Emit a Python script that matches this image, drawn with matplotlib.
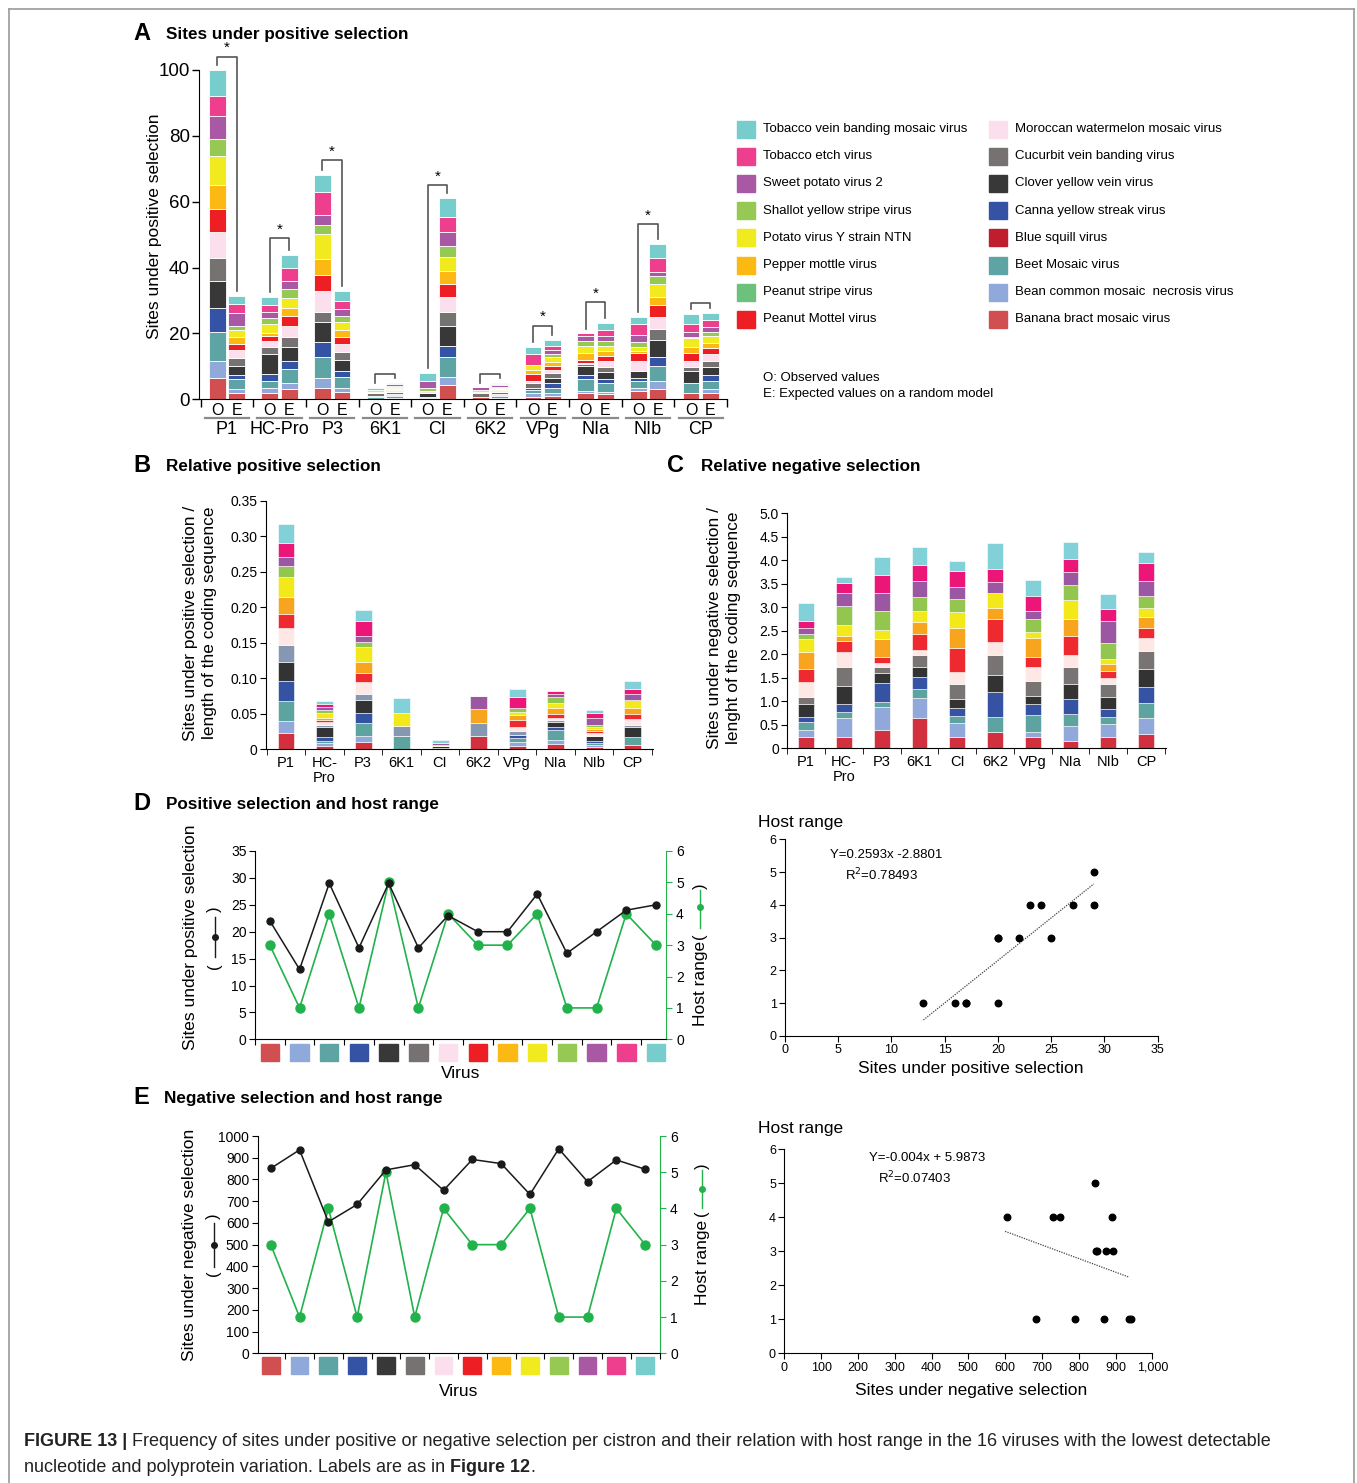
import matplotlib
matplotlib.use('Agg')
import matplotlib.pyplot as plt
from matplotlib.patches import Rectangle
from matplotlib.lines import Line2D
import numpy as np

plt.rcParams['font.family'] = ['Liberation Sans', 'DejaVu Sans']

# ---------------- data ----------------
cistrons = ['P1', 'HC-Pro', 'P3', '6K1', 'CI', '6K2', 'VPg', 'NIa', 'NIb', 'CP']
cistron_ticks = ['P1', 'HC-\nPro', 'P3', '6K1', 'CI', '6K2', 'VPg', 'NIa', 'NIb', 'CP']

legend_left = ['Tobacco vein banding mosaic virus', 'Tobacco etch virus', 'Sweet potato virus 2',
               'Shallot yellow stripe virus', 'Potato virus Y strain NTN', 'Pepper mottle virus',
               'Peanut stripe virus', 'Peanut Mottel virus']
legend_right = ['Moroccan watermelon mosaic virus', 'Cucurbit vein banding virus', 'Clover yellow vein virus',
                'Canna yellow streak virus', 'Blue squill virus', 'Beet Mosaic virus',
                'Bean common mosaic  necrosis virus', 'Banana bract mosaic virus']

# viruses in stacking order (bottom -> top), also the order on the x axis of D and E
viruses = ['Banana bract mosaic virus', 'Bean common mosaic  necrosis virus', 'Beet Mosaic virus',
           'Canna yellow streak virus', 'Clover yellow vein virus', 'Cucurbit vein banding virus',
           'Moroccan watermelon mosaic virus', 'Peanut Mottel virus', 'Pepper mottle virus',
           'Potato virus Y strain NTN', 'Shallot yellow stripe virus', 'Sweet potato virus 2',
           'Tobacco etch virus', 'Tobacco vein banding mosaic virus']

# rows = cistrons, columns = viruses (same order as `viruses`)
pos_obs = np.array([
    [6.6, 5.0, 8.9, 7.3, 8.1, 6.9, 8.1, 6.9, 7.3, 8.9, 5.1, 6.8, 6.1, 8.0],
    [1.8, 1.6, 2.3, 2.0, 6.1, 2.2, 1.7, 1.5, 0.8, 2.8, 2.0, 1.7, 2.1, 2.4],
    [3.5, 2.9, 6.4, 4.7, 6.1, 2.9, 6.5, 4.6, 5.0, 7.5, 2.8, 3.1, 7.0, 5.0],
    [0.2, 0.0, 0.4, 0.0, 0.4, 0.9, 0.2, 0.0, 0.2, 0.6, 0.0, 0.0, 0.0, 0.6],
    [0.3, 0.0, 0.5, 0.0, 1.0, 0.0, 0.8, 0.0, 0.0, 0.0, 0.9, 2.1, 0.0, 2.3],
    [0.8, 0.0, 0.0, 0.0, 0.0, 1.2, 0.0, 0.0, 0.3, 0.5, 0.0, 0.8, 0.0, 0.0],
    [0.6, 1.2, 1.0, 0.5, 0.0, 1.5, 0.8, 2.2, 1.0, 1.7, 0.0, 0.0, 3.2, 2.2],
    [2.0, 0.6, 3.5, 1.3, 2.8, 0.5, 0.3, 1.0, 2.0, 2.2, 1.5, 1.5, 0.8, 0.0],
    [2.6, 0.7, 2.4, 0.7, 2.3, 0.0, 2.9, 2.4, 0.8, 1.2, 1.5, 2.0, 3.3, 2.1],
    [1.8, 0.0, 3.1, 0.0, 3.8, 1.2, 1.7, 2.4, 2.0, 2.7, 0.3, 1.5, 2.3, 3.0],
])
pos_exp = np.array([
    [1.8, 1.3, 3.0, 1.3, 2.8, 2.2, 2.6, 1.8, 2.2, 2.1, 1.3, 3.7, 2.7, 2.6],
    [3.1, 1.8, 4.3, 2.5, 4.1, 3.0, 3.5, 3.0, 2.3, 3.1, 2.7, 2.5, 3.9, 3.9],
    [2.3, 1.2, 3.4, 1.8, 3.2, 2.4, 2.4, 2.1, 2.3, 2.5, 1.7, 2.0, 2.7, 3.0],
    [0.3, 0.2, 0.5, 0.2, 0.5, 0.4, 0.3, 0.3, 0.3, 0.4, 0.3, 0.4, 0.4, 0.4],
    [4.4, 2.3, 6.1, 3.5, 6.0, 4.2, 4.7, 3.8, 4.0, 4.1, 3.5, 4.3, 4.6, 5.5],
    [0.3, 0.2, 0.5, 0.2, 0.5, 0.4, 0.3, 0.3, 0.4, 0.4, 0.3, 0.4, 0.4, 0.3],
    [1.0, 0.8, 1.7, 1.3, 1.6, 1.5, 1.0, 1.3, 1.2, 1.3, 1.1, 1.2, 1.3, 1.7],
    [1.5, 0.7, 2.7, 1.2, 2.1, 1.7, 1.7, 1.7, 1.4, 1.6, 1.4, 1.6, 1.8, 2.2],
    [3.0, 2.6, 4.6, 2.6, 5.2, 3.4, 3.7, 3.5, 2.6, 3.8, 2.4, 1.4, 4.0, 4.4],
    [2.0, 1.1, 2.6, 1.7, 2.5, 1.7, 2.2, 1.7, 1.7, 2.1, 1.2, 1.4, 2.2, 2.0],
])
bracket_level = [104, 49, 72.7, 7.7, 65, 7.7, 22.4, 29.5, 53.2, 29.2]
significant = [True, True, True, False, True, False, True, True, True, False]

rel_pos = np.array([
    [0.0221, 0.0174, 0.0282, 0.0281, 0.0273, 0.0230, 0.0240, 0.0202, 0.0235, 0.0281, 0.0165, 0.0117, 0.0207, 0.0258],
    [0.0042, 0.0038, 0.0037, 0.0057, 0.0131, 0.0033, 0.0047, 0.0024, 0.0023, 0.0071, 0.0047, 0.0047, 0.0037, 0.0047],
    [0.0103, 0.0080, 0.0188, 0.0141, 0.0179, 0.0084, 0.0169, 0.0132, 0.0155, 0.0202, 0.0080, 0.0084, 0.0207, 0.0155],
    [0.0, 0.0, 0.0183, 0.0, 0.0, 0.0141, 0.0, 0.0, 0.0, 0.0188, 0.0, 0.0, 0.0, 0.0202],
    [0.0009, 0.0, 0.0, 0.0, 0.0033, 0.0, 0.0, 0.0, 0.0, 0.0019, 0.0, 0.0028, 0.0, 0.0038],
    [0.0188, 0.0, 0.0, 0.0, 0.0, 0.0183, 0.0, 0.0, 0.0188, 0.0, 0.0, 0.0188, 0.0, 0.0],
    [0.0042, 0.0061, 0.0047, 0.0047, 0.0, 0.0061, 0.0047, 0.0104, 0.0070, 0.0047, 0.0047, 0.0, 0.0155, 0.0118],
    [0.0070, 0.0057, 0.0141, 0.0047, 0.0070, 0.0023, 0.0024, 0.0061, 0.0080, 0.0071, 0.0084, 0.0047, 0.0042, 0.0],
    [0.0033, 0.0023, 0.0033, 0.0024, 0.0070, 0.0, 0.0038, 0.0038, 0.0023, 0.0023, 0.0033, 0.0104, 0.0070, 0.0038],
    [0.0056, 0.0, 0.0118, 0.0, 0.0131, 0.0033, 0.0085, 0.0070, 0.0080, 0.0118, 0.0, 0.0084, 0.0066, 0.0122],
])
rel_neg = np.array([
    [0.25, 0.14, 0.16, 0.12, 0.27, 0.15, 0.33, 0.26, 0.37, 0.27, 0.11, 0.14, 0.13, 0.40],
    [0.25, 0.39, 0.13, 0.17, 0.39, 0.39, 0.32, 0.25, 0.10, 0.23, 0.41, 0.27, 0.21, 0.13],
    [0.39, 0.48, 0.12, 0.41, 0.21, 0.13, 0.08, 0.13, 0.37, 0.20, 0.40, 0.38, 0.39, 0.37],
    [0.64, 0.42, 0.20, 0.25, 0.23, 0.25, 0.10, 0.34, 0.26, 0.24, 0.28, 0.34, 0.36, 0.38],
    [0.25, 0.28, 0.16, 0.16, 0.20, 0.32, 0.26, 0.50, 0.42, 0.34, 0.28, 0.26, 0.35, 0.21],
    [0.34, 0.00, 0.33, 0.52, 0.38, 0.42, 0.28, 0.48, 0.24, 0.32, 0.00, 0.22, 0.29, 0.54],
    [0.23, 0.12, 0.35, 0.24, 0.17, 0.33, 0.30, 0.20, 0.40, 0.13, 0.28, 0.18, 0.30, 0.35],
    [0.16, 0.32, 0.25, 0.32, 0.31, 0.36, 0.27, 0.41, 0.35, 0.41, 0.32, 0.28, 0.27, 0.35],
    [0.23, 0.29, 0.15, 0.17, 0.26, 0.26, 0.14, 0.15, 0.14, 0.10, 0.36, 0.45, 0.26, 0.32],
    [0.30, 0.34, 0.32, 0.35, 0.38, 0.38, 0.28, 0.22, 0.22, 0.20, 0.24, 0.32, 0.39, 0.23],
])

# per virus (order of `viruses`)
pos_sites = [22, 13, 29, 17, 29, 17, 23, 20, 20, 27, 16, 20, 24, 25]
neg_sites = [851, 936, 605, 685, 844, 868, 750, 892, 873, 731, 941, 790, 890, 847]
host_range = [3, 1, 4, 1, 5, 1, 4, 3, 3, 4, 1, 1, 4, 3]

fit_pos = (0.2593, -2.8801)
fit_neg = (-0.004, 5.9873)

# ---------------- styles ----------------
colors = {
    'Tobacco vein banding mosaic virus': '#77CCCC', 'Tobacco etch virus': '#EE3F8E',
    'Sweet potato virus 2': '#A958A3', 'Shallot yellow stripe virus': '#95C954',
    'Potato virus Y strain NTN': '#F1EA1F', 'Pepper mottle virus': '#FDB913',
    'Peanut stripe virus': '#6CC17D', 'Peanut Mottel virus': '#EE1E25',
    'Moroccan watermelon mosaic virus': '#FBDFEC', 'Cucurbit vein banding virus': '#767272',
    'Clover yellow vein virus': '#383838', 'Canna yellow streak virus': '#3553A4',
    'Blue squill virus': '#BF1E2E', 'Beet Mosaic virus': '#5FA4A4',
    'Bean common mosaic  necrosis virus': '#8FA9DB', 'Banana bract mosaic virus': '#D14F50',
}
col_main = [colors[v] for v in viruses]
col_rel = ['#D2303F', '#90A8DA', '#5DA3A0', '#3552A3', '#333333', '#787473', '#FDE8E6',
           '#EE2A30', '#F7A51E', '#F2E81A', '#93C64F', '#9B57A1', '#EC1679', '#82D0D8']
col_relB = list(col_rel)
col_relB[5] = '#8597B1'
GREEN = '#22B24C'

W, H = 1357, 1483
fig = plt.figure(figsize=(W / 100, H / 100), dpi=100)


def fx(x):
    return x / W


def fy(y):
    return 1 - y / H


def box(l, t, r, b):
    return [l / W, 1 - b / H, (r - l) / W, (b - t) / H]


def ftext(x, y, s, **kw):
    kw.setdefault('va', 'center')
    return fig.text(fx(x), fy(y), s, **kw)


def clean(ax):
    ax.spines['top'].set_visible(False)
    ax.spines['right'].set_visible(False)


# frame
for xs, ys in (([8.5, 8.5], [H, 8.5]), ([8.5, 1354], [8.5, 8.5]), ([1354, 1354], [8.5, H])):
    fig.add_artist(Line2D([fx(x) for x in xs], [fy(y) for y in ys], color='#999999', lw=1.2))

# panel titles
for letter, lx, tx, y, title in (('A', 133, 166, 35, 'Sites under positive selection'),
                                 ('B', 133, 166, 466, 'Relative positive selection'),
                                 ('C', 667, 701, 466, 'Relative negative selection'),
                                 ('D', 133, 166, 804, 'Positive selection and host range'),
                                 ('E', 133, 164, 1098, 'Negative selection and host range')):
    ftext(lx, y - 1, letter, fontsize=17, fontweight='bold')
    ftext(tx, y, title, fontsize=12.3, fontweight='bold')

# ---------------- A ----------------
axA = fig.add_axes(box(199, 70, 727, 399.3))
clean(axA)
xg = np.arange(len(cistrons))
off, bw = 0.185, 0.32
for data, dx in ((pos_obs, -off), (pos_exp, off)):
    bottom = np.zeros(len(cistrons))
    for j in range(len(viruses)):
        axA.bar(xg + dx, data[:, j], bw, bottom=bottom, color=col_main[j],
                edgecolor='white', linewidth=0.6)
        bottom += data[:, j]
obs_tot = pos_obs.sum(axis=1)
exp_tot = pos_exp.sum(axis=1)
for i in range(len(cistrons)):
    lev = bracket_level[i]
    axA.plot([i - off, i - off, i + off, i + off],
             [obs_tot[i] + 1.5, lev, lev, exp_tot[i] + 1.5],
             color='#555555', lw=1.2, clip_on=False)
    if significant[i]:
        axA.text(i, lev + 2.6, '*', ha='center', va='center', fontsize=11)
axA.set_xlim(-0.53, 9.48)
axA.set_ylim(0, 100)
axA.set_yticks(range(0, 101, 20))
axA.tick_params(axis='y', labelsize=13.5, length=5, width=1, pad=1.5)
pos_oe = np.concatenate([xg - off, xg + off])
axA.set_xticks(pos_oe)
axA.set_xticklabels(['O'] * 10 + ['E'] * 10, fontsize=11.5)
axA.tick_params(axis='x', length=0, pad=3)
axA.set_xticks(np.arange(-0.5, 10, 1), minor=True)
axA.tick_params(axis='x', which='minor', length=6, width=1)
trA = axA.get_xaxis_transform()
for i, name in enumerate(cistrons):
    axA.plot([i - 0.42, i + 0.42], [-0.057, -0.057], transform=trA, clip_on=False,
             color='#8A8A8A', lw=1.6)
    axA.text(i, -0.091, name, transform=trA, ha='center', va='center', fontsize=13)
ftext(155, 226, 'Sites under positive selection', rotation=90, ha='center', fontsize=12.5)

# legend
for k, name in enumerate(legend_left):
    y = 129 + 27.2 * k
    fig.add_artist(Rectangle((fx(737), fy(y + 8.5)), 18 / W, 17 / H, color=colors[name],
                             transform=fig.transFigure))
    ftext(763, y, name, fontsize=9.5)
for k, name in enumerate(legend_right):
    y = 129 + 27.2 * k
    fig.add_artist(Rectangle((fx(989), fy(y + 8.5)), 18 / W, 17 / H, color=colors[name],
                             transform=fig.transFigure))
    ftext(1015, y, name, fontsize=9.5)
ftext(763, 378, 'O: Observed values', fontsize=9.5)
ftext(763, 394, 'E: Expected values on a random model', fontsize=9.5)


# ---------------- B and C ----------------
def rel_panel(rect, data, cols, xlim, ylim, yticks, ylabels, width):
    ax = fig.add_axes(rect)
    clean(ax)
    bottom = np.zeros(len(cistrons))
    for j in range(len(viruses)):
        ax.bar(xg, data[:, j], width, bottom=bottom, color=cols[j], edgecolor='white', linewidth=0.4)
        bottom += data[:, j]
    ax.set_xlim(*xlim)
    ax.set_ylim(*ylim)
    ax.set_yticks(yticks)
    ax.set_yticklabels(ylabels)
    ax.tick_params(axis='y', labelsize=10, length=4, pad=2)
    ax.set_xticks(xg)
    ax.set_xticklabels(cistron_ticks, fontsize=10.5, va='top', linespacing=1.1)
    ax.tick_params(axis='x', length=0, pad=5)
    ax.set_xticks(np.arange(-0.5, 10, 1), minor=True)
    ax.tick_params(axis='x', which='minor', length=4)
    return ax


axB = rel_panel(box(266, 500.7, 653, 749), rel_pos, col_relB, (-0.52, 9.53), (0, 0.35),
                np.arange(0, 0.36, 0.05), ['0', '0.05', '0.10', '0.15', '0.20', '0.25', '0.30', '0.35'],
                0.44)
ftext(200, 623, 'Sites under positive selection /\nlength of the coding sequence', rotation=90,
      ha='center', fontsize=12.5, linespacing=1.3)

axC = rel_panel(box(787.3, 513.3, 1166, 748.3), rel_neg, col_rel, (-0.49, 9.53), (0, 5),
                np.arange(0, 5.01, 0.5), ['0', '0.5', '1.0', '1.5', '2.0', '2.5', '3.0', '3.5', '4.0', '4.5', '5.0'],
                0.415)
ftext(724, 628, 'Sites under negative selection /\nlenght of the coding sequence', rotation=90,
      ha='center', fontsize=12.5, linespacing=1.3)


# ---------------- D and E line plots ----------------
def host_panel(rect, vals, ylim, yticks, xlim, sq, ylabel, sym_left, sym_right, lab_y, virus_y):
    ax = fig.add_axes(rect)
    ax.spines['top'].set_visible(False)
    n = len(vals)
    xv = np.arange(n)
    ax.plot(xv, vals, '-o', color='#1a1a1a', lw=1.1, ms=5, zorder=3)
    ax.set_xlim(*xlim)
    ax.set_ylim(*ylim)
    ax.set_yticks(yticks)
    ax.tick_params(axis='y', labelsize=10, length=4, pad=2)
    ax.set_xticks(np.arange(-0.5, n, 1))
    ax.set_xticklabels([])
    ax.tick_params(axis='x', length=4)
    tr = ax.get_xaxis_transform()
    for i in range(n):
        ax.add_patch(Rectangle((i - 0.31, sq[0]), 0.62, sq[1] - sq[0], color=col_main[i],
                               transform=tr, clip_on=False))
    ax.spines['right'].set_visible(False)
    ax2 = ax.twinx()
    ax2.spines['top'].set_visible(False)
    ax2.spines['left'].set_visible(False)
    ax2.spines['bottom'].set_visible(False)
    ax2.spines['right'].set_color(GREEN)
    ax2.plot(xv, host_range, '-o', color=GREEN, lw=1.2, ms=6.5, zorder=2)
    ax2.set_ylim(0, 6)
    ax2.set_yticks(range(7))
    ax2.tick_params(axis='y', colors=GREEN, labelcolor='black', labelsize=10, length=4, pad=3)
    ax2.set_xlim(*xlim)
    ax.set_zorder(ax2.get_zorder() + 1)
    ax.patch.set_visible(False)
    # y labels with line symbols
    x0, (p_open, l0, dot, l1, p_close) = sym_left
    ftext(x0 - 24, lab_y, ylabel, rotation=90, ha='center', fontsize=12.5)
    ftext(x0, p_open, '(', rotation=90, ha='center', fontsize=12)
    ftext(x0, p_close, ')', rotation=90, ha='center', fontsize=12)
    fig.add_artist(Line2D([fx(x0), fx(x0)], [fy(l0), fy(l1)], color='#1a1a1a', lw=1))
    fig.add_artist(Line2D([fx(x0)], [fy(dot)], marker='o', ms=4, color='#1a1a1a'))
    x1, hr_y, (p_open, l0, dot, l1, p_close) = sym_right
    ftext(x1, hr_y, 'Host range', rotation=90, ha='center', fontsize=12.5)
    ftext(x1, p_open, '(', rotation=90, ha='center', fontsize=12)
    ftext(x1, p_close, ')', rotation=90, ha='center', fontsize=12)
    fig.add_artist(Line2D([fx(x1), fx(x1)], [fy(l0), fy(l1)], color=GREEN, lw=1))
    fig.add_artist(Line2D([fx(x1)], [fy(dot)], marker='o', ms=4, color=GREEN))
    ftext((rect[0] + rect[2] / 2) * W, virus_y, 'Virus', ha='center', fontsize=12.5)
    return ax


host_panel(box(255, 851, 666.4, 1039.3), pos_sites, (0, 35), range(0, 36, 5), (-0.5, 13.35),
           (-0.115, -0.025), 'Sites under positive selection',
           (214.5, (966, 957, 937, 917, 909)), (700, 983, (936, 928, 907, 890, 886)), 937, 1074)
host_panel(box(257.5, 1136, 660.4, 1353.3), neg_sites, (0, 1000), range(0, 1001, 100), (-0.46, 13.53),
           (-0.096, -0.017), 'Sites under negative selection',
           (213.5, (1273, 1267, 1245, 1223, 1216)), (702, 1262, (1213, 1208, 1189, 1170, 1166)), 1245, 1392)


# ---------------- D and E scatter ----------------
def scatter_panel(rect, xs, xlim, xticks, xlabels, fit, xr, eq, eq_pos, r2, r2_pos, hr_y, xl_y, xlabel):
    ax = fig.add_axes(rect)
    clean(ax)
    ax.scatter(xs, host_range, s=22, color='black', zorder=3)
    xx = np.array(xr)
    ax.plot(xx, fit[0] * xx + fit[1], ls=(0, (1, 1)), color='#444444', lw=0.9)
    ax.set_xlim(*xlim)
    ax.set_ylim(0, 6)
    ax.set_xticks(xticks)
    ax.set_xticklabels(xlabels)
    ax.set_yticks(range(7))
    ax.tick_params(labelsize=9, length=4, pad=2)
    ftext(eq_pos[0], eq_pos[1], eq, fontsize=9.5)
    ftext(r2_pos[0], r2_pos[1], r2, fontsize=9.5)
    ftext(758, hr_y, 'Host range', fontsize=12.5)
    ftext(971, xl_y, xlabel, ha='center', fontsize=12.5)


scatter_panel(box(785, 839.3, 1157.7, 1036), pos_sites, (0, 35), range(0, 36, 5),
              [str(v) for v in range(0, 36, 5)], fit_pos, [13, 29],
              'Y=0.2593x -2.8801', (830, 855), 'R$^2$=0.78493', (845, 875), 822, 1068,
              'Sites under positive selection')
scatter_panel(box(784.3, 1149.3, 1152.3, 1353.3), neg_sites, (0, 1000), range(0, 1001, 100),
              ['0', '100', '200', '300', '400', '500', '600', '700', '800', '900', '1,000'],
              fit_neg, [600, 937],
              'Y=-0.004x + 5.9873', (869, 1158), 'R$^2$=0.07403', (878, 1178), 1129, 1391,
              'Sites under negative selection')

# ---------------- caption ----------------
renderer = fig.canvas.get_renderer()


def caption_line(y, parts):
    x = 24
    for s, bold in parts:
        t = ftext(x, y, s, fontsize=13, fontweight='bold' if bold else 'normal', color='#222222')
        x += t.get_window_extent(renderer).width


caption_line(1442, [('FIGURE 13 | ', True),
                    ('Frequency of sites under positive or negative selection per cistron and their relation '
                     'with host range in the 16 viruses with the lowest detectable', False)])
caption_line(1467, [('nucleotide and polyprotein variation. Labels are as in ', False),
                    ('Figure 12', True), ('.', False)])

fig.savefig('out.png', dpi=100)
